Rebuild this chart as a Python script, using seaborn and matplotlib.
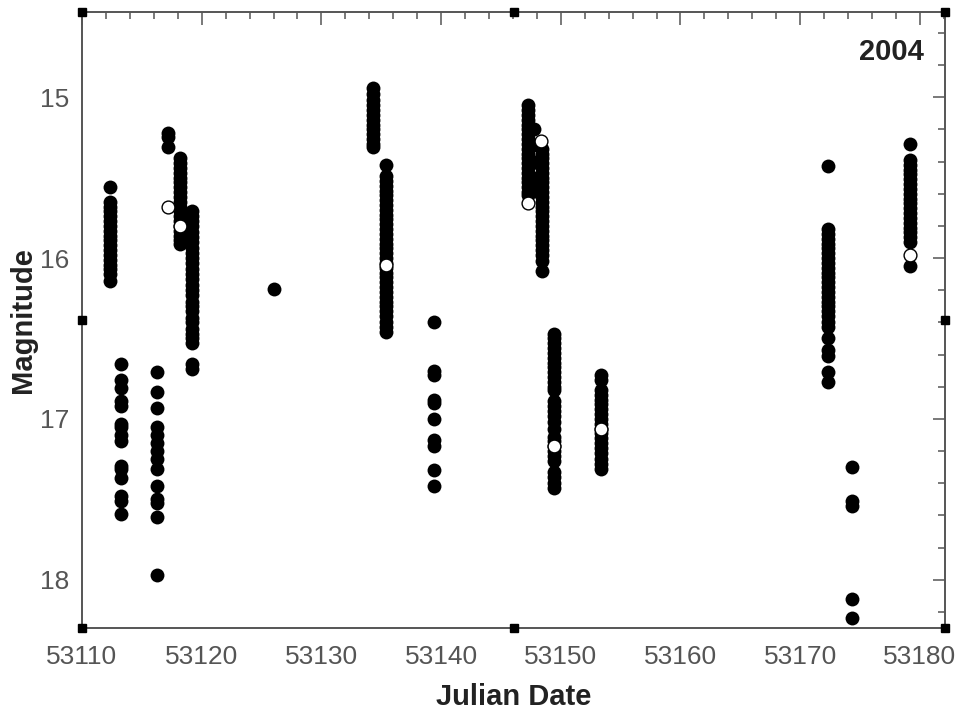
import matplotlib
matplotlib.use("Agg")
import matplotlib.pyplot as plt
from matplotlib.ticker import MultipleLocator
import seaborn as sns
import pandas as pd

# ---- data: nightly observations (Julian Date, magnitude) ----
night_jd = [53112.35, 53113.3, 53116.3, 53117.2, 53118.2, 53119.2, 53126.05,
            53134.3, 53135.4, 53139.4, 53147.3, 53147.8, 53148.4, 53149.4,
            53153.4, 53172.3, 53174.3, 53179.2]

night_mag = [
    [15.56, 15.65, 15.68, 15.71, 15.74, 15.77, 15.80, 15.83, 15.86, 15.89, 15.92,
     15.95, 15.98, 16.01, 16.04, 16.07, 16.10, 16.14],
    [16.66, 16.76, 16.81, 16.89, 16.92, 17.03, 17.05, 17.10, 17.14, 17.29, 17.31,
     17.37, 17.48, 17.51, 17.59],
    [16.71, 16.83, 16.93, 17.05, 17.10, 17.15, 17.20, 17.25, 17.31, 17.42, 17.50,
     17.52, 17.61, 17.97],
    [15.22, 15.25, 15.31],
    [15.38, 15.41, 15.44, 15.47, 15.50, 15.53, 15.56, 15.59, 15.62, 15.65, 15.68,
     15.71, 15.74, 15.77, 15.80, 15.83, 15.86, 15.89, 15.91],
    [15.71, 15.74, 15.77, 15.80, 15.84, 15.87, 15.90, 15.94, 15.97, 16.00, 16.03,
     16.07, 16.10, 16.13, 16.17, 16.20, 16.23, 16.27, 16.30, 16.33, 16.37, 16.40,
     16.44, 16.47, 16.50, 16.53, 16.66, 16.69],
    [16.19],
    [14.94, 14.98, 15.02, 15.05, 15.08, 15.11, 15.14, 15.17, 15.20, 15.23, 15.26,
     15.29, 15.31],
    [15.42, 15.49, 15.52, 15.55, 15.58, 15.61, 15.64, 15.67, 15.70, 15.73, 15.76,
     15.79, 15.82, 15.85, 15.88, 15.91, 15.94, 15.97, 16.00, 16.03, 16.06, 16.09,
     16.12, 16.15, 16.18, 16.21, 16.24, 16.27, 16.30, 16.33, 16.36, 16.40, 16.43,
     16.46],
    [16.40, 16.70, 16.73, 16.88, 16.90, 17.00, 17.13, 17.17, 17.32, 17.42],
    [15.05, 15.08, 15.11, 15.14, 15.17, 15.20, 15.23, 15.26, 15.29, 15.32, 15.35,
     15.38, 15.41, 15.44, 15.47, 15.50, 15.53, 15.56, 15.59, 15.61],
    [15.20, 15.30, 15.40, 15.50, 15.58],
    [15.32, 15.35, 15.38, 15.41, 15.44, 15.47, 15.50, 15.53, 15.56, 15.59, 15.62,
     15.65, 15.68, 15.71, 15.74, 15.77, 15.80, 15.83, 15.86, 15.89, 15.92, 15.95,
     15.98, 16.02, 16.08],
    [16.47, 16.50, 16.53, 16.56, 16.59, 16.62, 16.65, 16.68, 16.71, 16.74, 16.77,
     16.80, 16.82, 16.89, 16.92, 16.95, 16.98, 17.02, 17.06, 17.11, 17.14, 17.17,
     17.20, 17.23, 17.26, 17.33, 17.36, 17.40, 17.43],
    [16.73, 16.76, 16.82, 16.85, 16.88, 16.91, 16.94, 16.97, 17.00, 17.03, 17.06,
     17.09, 17.12, 17.15, 17.18, 17.21, 17.25, 17.28, 17.31],
    [15.43, 15.82, 15.85, 15.88, 15.91, 15.94, 15.97, 16.00, 16.03, 16.06, 16.09,
     16.12, 16.15, 16.18, 16.21, 16.24, 16.27, 16.30, 16.33, 16.36, 16.40, 16.43,
     16.50, 16.57, 16.61, 16.71, 16.77],
    [17.30, 17.51, 17.54, 18.12, 18.24],
    [15.29, 15.39, 15.42, 15.45, 15.48, 15.51, 15.54, 15.57, 15.60, 15.63, 15.66,
     15.69, 15.72, 15.75, 15.78, 15.81, 15.84, 15.87, 15.90, 16.05],
]

# open-circle points
open_jd = [53117.2, 53118.2, 53135.4, 53147.3, 53148.35, 53149.4, 53153.4, 53179.2]
open_mag = [15.68, 15.80, 16.04, 15.66, 15.27, 17.17, 17.06, 15.98]

x_ticks = [53110, 53120, 53130, 53140, 53150, 53160, 53170, 53180]
y_ticks = [15, 16, 17, 18]
year_label = "2004"

# ---- build tables ----
rows = []
for jd, mags in zip(night_jd, night_mag):
    for m in mags:
        rows.append((jd, m))
df = pd.DataFrame(rows, columns=["jd", "mag"])
df_open = pd.DataFrame({"jd": open_jd, "mag": open_mag})

sns.set_style("white")
plt.rcParams["font.family"] = ["Liberation Sans", "DejaVu Sans"]

fig = plt.figure(figsize=(9.62, 7.16), dpi=100)
ax = fig.add_axes([82 / 962, 1 - 628 / 716, (945 - 82) / 962, (628 - 12) / 716])

sns.scatterplot(data=df, x="jd", y="mag", ax=ax, color="black", s=100,
                linewidth=0, marker="o", zorder=3)
sns.scatterplot(data=df_open, x="jd", y="mag", ax=ax, color="white", s=85,
                edgecolor="black", linewidth=1.0, marker="o", zorder=4)

ax.set_xlim(53110, 53182.1)
ax.set_ylim(18.3, 14.47)

ax.set_xticks(x_ticks)
ax.set_xticklabels([str(t) for t in x_ticks])
ax.set_yticks(y_ticks)
ax.set_yticklabels([str(t) for t in y_ticks])
ax.xaxis.set_minor_locator(MultipleLocator(2))
ax.yaxis.set_minor_locator(MultipleLocator(0.2))

frame_col = "#555555"
for sp in ax.spines.values():
    sp.set_visible(True)
    sp.set_color(frame_col)
    sp.set_linewidth(1.4)

ax.tick_params(axis="both", which="both", direction="in", top=True, right=True,
               color=frame_col, width=1.1)
ax.tick_params(axis="both", which="major", length=9, labelsize=19,
               labelcolor="#555555")
ax.tick_params(axis="x", which="major", pad=12)
ax.tick_params(axis="y", which="major", pad=9)
ax.tick_params(axis="both", which="minor", length=5)

ax.set_xlabel("Julian Date", fontsize=21, fontweight="bold", color="#222222",
              labelpad=10)
ax.set_ylabel("Magnitude", fontsize=21, fontweight="bold", color="#222222",
              labelpad=2)

ax.text(0.975, 0.935, year_label, transform=ax.transAxes, ha="right", va="center",
        fontsize=21, fontweight="bold", color="#222222")

# frame decoration squares at corners and side midpoints
sq_x = [0, 0.5, 1, 0, 1, 0, 0.5, 1]
sq_y = [0, 0, 0, 0.5, 0.5, 1, 1, 1]
ax.plot(sq_x, sq_y, linestyle="none", marker="s", markersize=6, color="black",
        transform=ax.transAxes, clip_on=False, zorder=5)

fig.savefig("out.png", dpi=100)
